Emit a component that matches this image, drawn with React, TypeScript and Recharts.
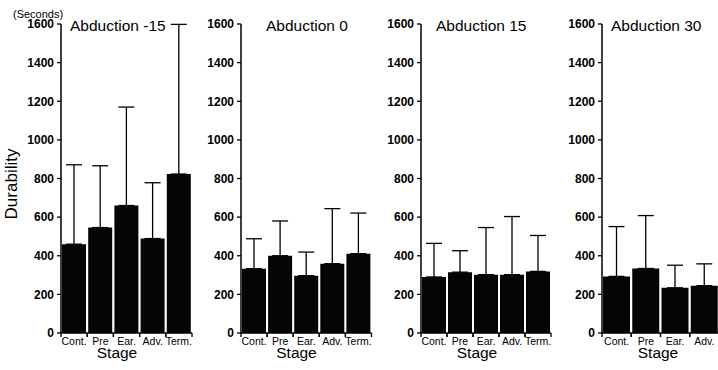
import React from 'react';
import { BarChart, Bar, XAxis, YAxis, ErrorBar } from 'recharts';

const stages5 = ['Cont.', 'Pre', 'Ear.', 'Adv.', 'Term.'];
const stages4 = ['Cont.', 'Pre', 'Ear.', 'Adv.'];
const yTicks = [0, 200, 400, 600, 800, 1000, 1200, 1400, 1600];
const titles = ['Abduction -15', 'Abduction 0', 'Abduction 15', 'Abduction 30'];

const meanAbdM15 = [460, 546, 660, 489, 823];
const sdAbdM15 = [411, 320, 510, 289, 775];
const meanAbd0 = [333, 400, 297, 359, 411];
const sdAbd0 = [155, 180, 122, 285, 210];
const meanAbd15 = [290, 315, 302, 302, 319];
const sdAbd15 = [174, 111, 244, 301, 186];
const meanAbd30 = [293, 334, 234, 245];
const sdAbd30 = [258, 274, 117, 113];

const FONT = '"Liberation Sans", Arial, Helvetica, sans-serif';

const build = (stages: string[], means: number[], sds: number[]) =>
  stages.map((s, i) => ({ stage: s, mean: means[i], err: [0, sds[i]] }));

const panels = [
  { title: titles[0], data: build(stages5, meanAbdM15, sdAbdM15), plotLeft: 61, plotWidth: 131, titleX: 70 },
  { title: titles[1], data: build(stages5, meanAbd0, sdAbd0), plotLeft: 240.5, plotWidth: 130.5, titleX: 266 },
  { title: titles[2], data: build(stages5, meanAbd15, sdAbd15), plotLeft: 421, plotWidth: 130, titleX: 436 },
  { title: titles[3], data: build(stages4, meanAbd30, sdAbd30), plotLeft: 602, plotWidth: 117, titleX: 611 },
];

const makeTick = (bw: number) => (props: any) => {
  const { x, y, payload } = props;
  return (
    <g>
      <line x1={x - bw / 2} x2={x - bw / 2} y1={y} y2={y + 4} stroke="#000" strokeWidth={1.3} />
      <line x1={x + bw / 2} x2={x + bw / 2} y1={y} y2={y + 4} stroke="#000" strokeWidth={1.3} />
      <text x={x} y={y + 11.5} textAnchor="middle" fontSize={10.5} fontFamily={FONT} fill="#000">
        {payload.value}
      </text>
    </g>
  );
};

const Panel = ({ p }: { p: typeof panels[number] }) => {
  const left = p.plotLeft - 60;
  const width = 60 + p.plotWidth + 6;
  const bw = p.plotWidth / p.data.length;
  return (
    <div style={{ position: 'absolute', left, top: 0 }}>
      <BarChart
        width={width}
        height={370}
        data={p.data}
        margin={{ top: 24, right: 6, left: 20, bottom: 0 }}
        barCategoryGap={1}
      >
        <XAxis
          dataKey="stage"
          height={37}
          interval={0}
          tickLine={false}
          tickSize={0}
          tickMargin={0}
          axisLine={{ stroke: '#000', strokeWidth: 1.5 }}
          tick={makeTick(bw)}
        />
        <YAxis
          width={40}
          domain={[0, 1600]}
          ticks={yTicks}
          interval={0}
          tickSize={4}
          tickMargin={3}
          axisLine={{ stroke: '#000', strokeWidth: 1.5 }}
          tickLine={{ stroke: '#000', strokeWidth: 1.3 }}
          tick={{ fontSize: 12, fontWeight: 'bold', fill: '#000', fontFamily: FONT }}
        />
        <Bar dataKey="mean" fill="#050505" isAnimationActive={false}>
          <ErrorBar dataKey="err" width={8} stroke="#000" strokeWidth={1.3} direction="y" isAnimationActive={false} />
        </Bar>
      </BarChart>
    </div>
  );
};

export default function App() {
  return (
    <div style={{ position: 'absolute', left: 0, top: 0, width: 718, height: 370, overflow: 'hidden', background: '#fff' }}>
      {panels.map((p, i) => (
        <Panel key={i} p={p} />
      ))}
      <svg width={718} height={370} style={{ position: 'absolute', left: 0, top: 0, pointerEvents: 'none' }}>
        <text x={13} y={18} fontSize={11} fontFamily={FONT} fill="#000">(Seconds)</text>
        <text
          x={0}
          y={0}
          transform="translate(17,184) rotate(-90)"
          textAnchor="middle"
          fontSize={17}
          fontFamily={FONT}
          fill="#000"
        >
          Durability
        </text>
        {panels.map((p, i) => (
          <text key={'t' + i} x={p.titleX} y={31} fontSize={15.5} fontFamily={FONT} fill="#000">
            {p.title}
          </text>
        ))}
        {panels.map((p, i) => (
          <text
            key={'s' + i}
            x={p.plotLeft + Math.min(p.plotWidth, 116) / 2 - 2}
            y={358}
            textAnchor="middle"
            fontSize={15.5}
            fontFamily={FONT}
            fill="#000"
          >
            Stage
          </text>
        ))}
      </svg>
    </div>
  );
}
